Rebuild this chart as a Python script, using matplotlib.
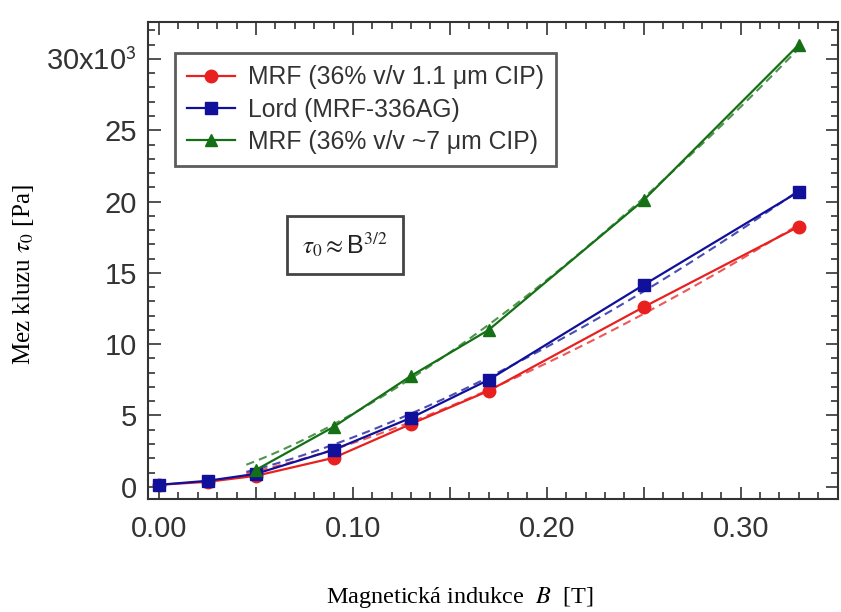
import numpy as np
import matplotlib
matplotlib.use("Agg")
import matplotlib.pyplot as plt
from matplotlib.ticker import MultipleLocator, FuncFormatter

# Data (B in T, yield stress in Pa)
b_main = [0.0, 0.025, 0.05, 0.09, 0.13, 0.17, 0.25, 0.33]
tau_red = [140, 350, 770, 2030, 4410, 6730, 12610, 18250]
tau_blue = [140, 420, 910, 2590, 4840, 7500, 14160, 20700]
b_green = [0.05, 0.09, 0.13, 0.17, 0.25, 0.33]
tau_green = [1190, 4200, 7780, 11000, 20110, 31000]

labels = ["MRF (36% v/v 1.1 \u03bcm CIP)", "Lord (MRF-336AG)", "MRF (36% v/v ~7 \u03bcm CIP)"]
colors = ["#e82020", "#10109a", "#157015"]
markers = ["o", "s", "^"]

plt.rcParams["mathtext.fontset"] = "stix"

fig = plt.figure(figsize=(8.41, 6.12), dpi=100)
ax = fig.add_axes([0.176, 0.185, 0.82, 0.779])

series = [(b_main, tau_red), (b_main, tau_blue), (b_green, tau_green)]
for (bx, ty), lab, c, m in zip(series, labels, colors, markers):
    bx = np.array(bx)
    ty = np.array(ty)
    ax.plot(bx, ty, color=c, marker=m, markersize=9, lw=1.6, label=lab, zorder=3)
    # B^(3/2) fit over points with B >= 0.05
    sel = bx >= 0.05
    k = np.sum(ty[sel] * bx[sel] ** 1.5) / np.sum(bx[sel] ** 3)
    bb = np.linspace(0.045, 0.33, 100)
    ax.plot(bb, k * bb ** 1.5, color=c, lw=1.5, ls=(0, (4, 2.5)), alpha=0.75, zorder=2)

ax.set_xlim(-0.0057, 0.35)
ax.set_ylim(-840, 32590)

ax.xaxis.set_major_locator(MultipleLocator(0.05))
ax.xaxis.set_minor_locator(MultipleLocator(0.01))
ax.yaxis.set_major_locator(MultipleLocator(5000))
ax.yaxis.set_minor_locator(MultipleLocator(1000))

def xfmt(v, pos):
    if abs(round(v / 0.1) * 0.1 - v) < 1e-6:
        return "%.2f" % v
    return ""

def yfmt(v, pos):
    n = int(round(v / 1000))
    if n == 30:
        return "30x10$^{\\mathsf{3}}$"
    return str(n)

ax.xaxis.set_major_formatter(FuncFormatter(xfmt))
ax.yaxis.set_major_formatter(FuncFormatter(yfmt))

ax.tick_params(which="both", direction="in", top=True, right=True, color="#333333", width=1.2)
ax.tick_params(which="major", length=9)
ax.tick_params(which="minor", length=5)
ax.tick_params(axis="x", which="major", pad=12)
ax.tick_params(axis="y", which="major", pad=8)
for lab in ax.get_xticklabels() + ax.get_yticklabels():
    lab.set_fontfamily("Liberation Sans")
    lab.set_fontsize(21)
    lab.set_color("#333333")
for s in ax.spines.values():
    s.set_color("#333333")
    s.set_linewidth(1.5)

ax.set_xlabel("Magnetická indukce  $B$  [T]", fontfamily="Liberation Serif", fontsize=17.5, va="center")
ax.xaxis.set_label_coords(0.452, -0.207)
ax.set_ylabel("Mez kluzu $\\tau_0$ [Pa]", fontfamily="Liberation Serif", fontsize=18)
ax.yaxis.set_label_coords(-0.162, 0.47)

leg = ax.legend(loc="upper left", bbox_to_anchor=(0.039, 0.935), borderaxespad=0,
                prop={"family": "Liberation Sans", "size": 17.8}, fancybox=False,
                handlelength=1.95, labelspacing=0.33, handletextpad=0.5, borderpad=0.5)
leg.get_frame().set_edgecolor("#333333")
leg.get_frame().set_linewidth(2)
for t in leg.get_texts():
    t.set_color("#333333")

ax.text(0.096, 16960, "$\\tau_0 \\approx$B$^{3/2}$", fontsize=18, fontfamily="Liberation Sans",
        ha="center", va="center", color="#222222",
        bbox=dict(boxstyle="square,pad=0.6", fc="white", ec="#444444", lw=2))

fig.savefig("out.png", dpi=100)
